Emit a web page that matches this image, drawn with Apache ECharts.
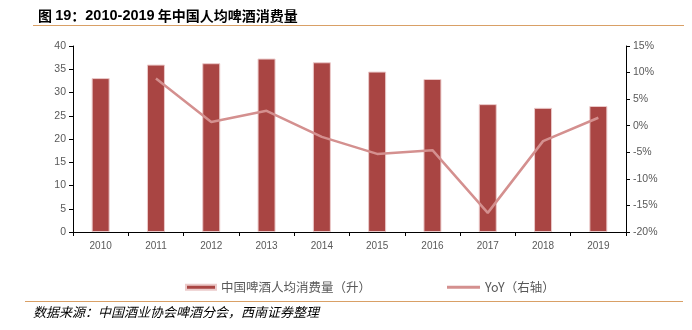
<!DOCTYPE html>
<html><head><meta charset="utf-8">
<script src="https://cdn.jsdelivr.net/npm/echarts@6/dist/echarts.min.js"></script>
<style>html,body{margin:0;padding:0;background:#fff}#c{width:692px;height:330px}</style>
</head><body><div id="c"></div>
<script>
const categories = ['2010','2011','2012','2013','2014','2015','2016','2017','2018','2019'];
const consumption = [33.1, 36.0, 36.3, 37.3, 36.5, 34.5, 32.9, 27.5, 26.7, 27.1];
const yoy = [null, 8.9, 0.7, 2.8, -2.1, -5.3, -4.6, -16.4, -2.9, 1.5];
const leftTicks = {min: 0, max: 40, interval: 5};
const rightTicks = {min: -20, max: 15, interval: 5};
const barName = '中国啤酒人均消费量（升）';
const lineName = 'YoY（右轴）';

const chart = echarts.init(document.getElementById('c'), null, {renderer: 'canvas'});
const gray = '#595959';
const cjk = '"Noto Sans CJK SC", "Liberation Sans", sans-serif';
const latin = '"Liberation Sans", Arial, sans-serif';
chart.setOption({
  animation: false,
  backgroundColor: '#fff',
  textStyle: {fontFamily: cjk},
  title: {
    left: 33, top: 3,
    text: '图 {n|19}：{n|2010-2019} 年中国人均啤酒消费量',
    textStyle: {
      fontSize: 14, fontWeight: 'bold', color: '#000', fontFamily: cjk,
      rich: {n: {fontSize: 14.5, fontWeight: 'bold', fontFamily: latin, color: '#000'}}
    }
  },
  graphic: [
    {type: 'line', shape: {x1: 33, y1: 25.5, x2: 684, y2: 25.5}, style: {stroke: '#D9A066', lineWidth: 1.2}},
    {type: 'line', shape: {x1: 25, y1: 301.5, x2: 683, y2: 301.5}, style: {stroke: '#D9A066', lineWidth: 1.2}},
    {type: 'text', left: 33, top: 306, style: {text: '数据来源：中国酒业协会啤酒分会，西南证券整理', fontSize: 13, fontStyle: 'italic', fill: '#000', fontFamily: cjk}}
  ],
  legend: [
    {data: [barName], left: 180, top: 276, itemWidth: 30, itemHeight: 5, icon: 'rect',
     textStyle: {color: gray, fontSize: 12.5, fontFamily: cjk}},
    {data: [lineName], left: 442, top: 276, itemWidth: 33, itemHeight: 3, icon: 'rect',
     textStyle: {color: gray, fontSize: 12.5, fontFamily: cjk}}
  ],
  grid: {left: 73, right: 66, top: 46, bottom: 98, containLabel: false},
  xAxis: {
    type: 'category', data: categories, boundaryGap: true,
    axisLine: {lineStyle: {color: '#000', width: 1}},
    axisTick: {show: true, length: 4, lineStyle: {color: '#000'}},
    axisLabel: {color: gray, fontSize: 10, margin: 9, fontFamily: latin}
  },
  yAxis: [
    {type: 'value', min: leftTicks.min, max: leftTicks.max, interval: leftTicks.interval,
     axisLine: {show: true, lineStyle: {color: '#000'}},
     axisTick: {show: true, length: 4, lineStyle: {color: '#000'}},
     splitLine: {show: false},
     axisLabel: {color: gray, fontSize: 10.5, margin: 7, fontFamily: latin}},
    {type: 'value', min: rightTicks.min, max: rightTicks.max, interval: rightTicks.interval, position: 'right',
     axisLine: {show: true, lineStyle: {color: '#000'}},
     axisTick: {show: true, length: 4, lineStyle: {color: '#000'}},
     splitLine: {show: false},
     axisLabel: {color: gray, fontSize: 10.5, margin: 7, formatter: '{value}%', fontFamily: latin}}
  ],
  series: [
    {name: barName, type: 'bar', data: consumption, yAxisIndex: 0, barWidth: 18,
     itemStyle: {color: '#A94543', borderColor: '#EBCACA', borderWidth: 1}},
    {name: lineName, type: 'line', data: yoy, yAxisIndex: 1, symbol: 'none', showSymbol: false,
     lineStyle: {color: '#D4908F', width: 2.5}, itemStyle: {color: '#D4908F'}}
  ]
});
</script></body></html>
